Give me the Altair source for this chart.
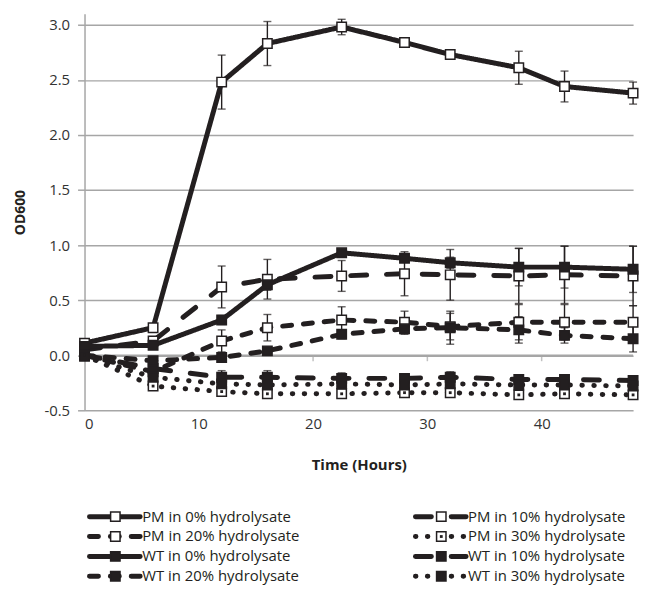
import altair as alt
import pandas as pd

# ---------------- data ----------------
times = [0, 6, 12, 16, 22.5, 28, 32, 38, 42, 48]

series_names = [
    "PM in 0% hydrolysate", "PM in 10% hydrolysate",
    "PM in 20% hydrolysate", "PM in 30% hydrolysate",
    "WT in 0% hydrolysate", "WT in 10% hydrolysate",
    "WT in 20% hydrolysate", "WT in 30% hydrolysate",
]

pm0 = [0.11, 0.25, 2.48, 2.83, 2.98, 2.84, 2.73, 2.61, 2.44, 2.38]
pm0_err = [0.02, 0.02, 0.245, 0.20, 0.07, 0.03, 0.03, 0.15, 0.14, 0.10]
pm10 = [0.05, 0.13, 0.62, 0.69, 0.72, 0.74, 0.73, 0.72, 0.73, 0.72]
pm10_err = [0.02, 0.03, 0.19, 0.18, 0.14, 0.20, 0.23, 0.25, 0.26, 0.27]
pm20 = [0.00, -0.15, 0.13, 0.25, 0.32, 0.30, 0.26, 0.30, 0.30, 0.30]
pm20_err = [0.02, 0.03, 0.10, 0.12, 0.12, 0.10, 0.12, 0.16, 0.16, 0.15]
pm30 = [0.00, -0.28, -0.33, -0.35, -0.35, -0.34, -0.34, -0.36, -0.35, -0.36]
pm30_err = [0.01, 0.03, 0.04, 0.04, 0.04, 0.03, 0.03, 0.04, 0.03, 0.03]
wt0 = [0.08, 0.09, 0.32, 0.64, 0.93, 0.88, 0.84, 0.80, 0.80, 0.78]
wt0_err = [0.01, 0.02, 0.04, 0.05, 0.03, 0.03, 0.05, 0.17, 0.19, 0.21]
wt10 = [0.00, -0.12, -0.20, -0.20, -0.21, -0.21, -0.20, -0.22, -0.22, -0.23]
wt10_err = [0.01, 0.05, 0.06, 0.06, 0.05, 0.04, 0.05, 0.04, 0.04, 0.04]
wt20 = [0.00, -0.05, -0.02, 0.04, 0.19, 0.24, 0.25, 0.23, 0.18, 0.15]
wt20_err = [0.01, 0.03, 0.03, 0.03, 0.04, 0.05, 0.15, 0.12, 0.07, 0.12]
wt30 = [-0.01, -0.20, -0.26, -0.27, -0.26, -0.27, -0.26, -0.27, -0.27, -0.28]
wt30_err = [0.01, 0.04, 0.05, 0.05, 0.05, 0.05, 0.05, 0.04, 0.04, 0.04]

x_ticks = [0, 10, 20, 30, 40]
y_ticks = [-0.5, 0.0, 0.5, 1.0, 1.5, 2.0, 2.5, 3.0]

values = [pm0, pm10, pm20, pm30, wt0, wt10, wt20, wt30]
errors = [pm0_err, pm10_err, pm20_err, pm30_err, wt0_err, wt10_err, wt20_err, wt30_err]

rows = []
for name, vals, errs in zip(series_names, values, errors):
    for t, v, e in zip(times, vals, errs):
        rows.append({"series": name, "t": t, "v": v, "lo": v - e, "hi": v + e})
df = pd.DataFrame(rows)

# ---------------- styles ----------------
INK = "#231f20"
GRID = "#a6a6a6"
FONT = "Open Sans"

SOLID, LONG, DASH, DOT = [1, 0], [16, 20], [9, 12], [0.5, 11.5]
dash_scale = alt.Scale(domain=series_names,
                       range=[SOLID, LONG, DASH, DOT, SOLID, LONG, DASH, DOT])
fill_scale = alt.Scale(domain=series_names,
                       range=["white"] * 4 + [INK] * 4)

xscale = alt.Scale(domain=[0, 48], nice=False, zero=False)
yscale = alt.Scale(domain=[-0.5, 3.1], nice=False, zero=False)

xaxis = alt.Axis(values=x_ticks, grid=False, domain=False, ticks=False,
                 labelFontSize=15, labelColor="#333333", labelPadding=6,
                 labelFont=FONT, title="Time (Hours)", titleFont=FONT,
                 titleFontSize=15, titleFontWeight="bold", titleColor=INK,
                 titlePadding=27)
yaxis = alt.Axis(values=y_ticks, grid=True, gridColor=GRID, gridWidth=1.5,
                 domainColor=GRID, domainWidth=1.5, tickColor=GRID,
                 tickSize=7, tickWidth=1.5, labelFontSize=15,
                 labelColor="#333333", labelPadding=8, labelFont=FONT,
                 labelExpr="datum.value < 0 ? '-' + format(-datum.value, '.1f') : format(datum.value, '.1f')",
                 title="OD600", titleFont=FONT, titleFontSize=14,
                 titleFontWeight="bold", titleColor=INK, titlePadding=16)


def X(field):
    return alt.X(f"{field}:Q", scale=xscale, axis=xaxis)


def Y(field):
    return alt.Y(f"{field}:Q", scale=yscale, axis=yaxis)


base = alt.Chart(df)

zero_line = alt.Chart(pd.DataFrame({"v": [0.0]})).mark_rule(
    color=GRID, strokeWidth=1.5).encode(y=Y("v"))

x_tick_marks = alt.Chart(pd.DataFrame({"t": x_ticks[1:], "v": [0.0] * 4})).mark_tick(
    orient="vertical", size=6, thickness=1.5, color=GRID, yOffset=3
).encode(x=X("t"), y=Y("v"))

err_rules = base.mark_rule(color=INK, strokeWidth=1.4).encode(
    x=X("t"), y=Y("lo"), y2="hi:Q")
cap_lo = base.mark_tick(orient="horizontal", size=8, thickness=1.4, color=INK).encode(
    x=X("t"), y=Y("lo"))
cap_hi = base.mark_tick(orient="horizontal", size=8, thickness=1.4, color=INK).encode(
    x=X("t"), y=Y("hi"))

lines = base.mark_line(strokeWidth=5, strokeCap="round", strokeJoin="round",
                       color=INK).encode(
    x=X("t"), y=Y("v"),
    strokeDash=alt.StrokeDash("series:N", scale=dash_scale, legend=None),
    order="t:Q")

points = base.mark_point(shape="square", filled=True, size=90, stroke=INK,
                         strokeWidth=1.5, opacity=1).encode(
    x=X("t"), y=Y("v"),
    fill=alt.Fill("series:N", scale=fill_scale, legend=None))

inner_dots = base.transform_filter(
    alt.datum.series == series_names[3]
).mark_point(shape="square", filled=True, size=8, color=INK, opacity=1).encode(
    x=X("t"), y=Y("v"))

plot = alt.layer(zero_line, x_tick_marks, err_rules, cap_lo, cap_hi, lines,
                 points, inner_dots).properties(width=552, height=399)

# ---------------- legend (two columns, four rows) ----------------
col_left = [5, 333]
leg = pd.DataFrame({
    "series": series_names,
    "col": [i % 2 for i in range(8)],
    "row": [i // 2 for i in range(8)],
})
leg["x0"] = leg["col"].map(lambda c: col_left[c])
leg["x1"] = leg["x0"] + 51
leg["xm"] = leg["x0"] + 26
leg["xt"] = leg["x0"] + 53

lx = alt.Scale(domain=[0, 552], nice=False, zero=False)
ly = alt.Scale(domain=[-0.5, 3.5], nice=False, zero=False, reverse=True)
lb = alt.Chart(leg)

leg_lines = lb.mark_rule(strokeWidth=5, strokeCap="round", color=INK).encode(
    x=alt.X("x0:Q", scale=lx, axis=None), x2="x1:Q",
    y=alt.Y("row:Q", scale=ly, axis=None),
    strokeDash=alt.StrokeDash("series:N", scale=dash_scale, legend=None))
leg_pts = lb.mark_point(shape="square", filled=True, size=90, stroke=INK,
                        strokeWidth=1.5, opacity=1).encode(
    x=alt.X("xm:Q", scale=lx, axis=None),
    y=alt.Y("row:Q", scale=ly, axis=None),
    fill=alt.Fill("series:N", scale=fill_scale, legend=None))
leg_dot = lb.transform_filter(alt.datum.series == series_names[3]).mark_point(
    shape="square", filled=True, size=8, color=INK, opacity=1).encode(
    x=alt.X("xm:Q", scale=lx, axis=None),
    y=alt.Y("row:Q", scale=ly, axis=None))
leg_text = lb.mark_text(align="left", baseline="middle", fontSize=15,
                        font=FONT, color=INK).encode(
    x=alt.X("xt:Q", scale=lx, axis=None),
    y=alt.Y("row:Q", scale=ly, axis=None),
    text="series:N")

legend = alt.layer(leg_lines, leg_pts, leg_dot, leg_text).properties(
    width=552, height=80)

chart = alt.vconcat(plot, legend, spacing=34).resolve_scale(
    x="independent", y="independent"
).properties(
    padding={"left": 6, "top": 4, "right": 5, "bottom": 5}
).configure(font=FONT).configure_view(stroke=None)

chart.save("out.html", embed_options={"renderer": "svg", "actions": False})
